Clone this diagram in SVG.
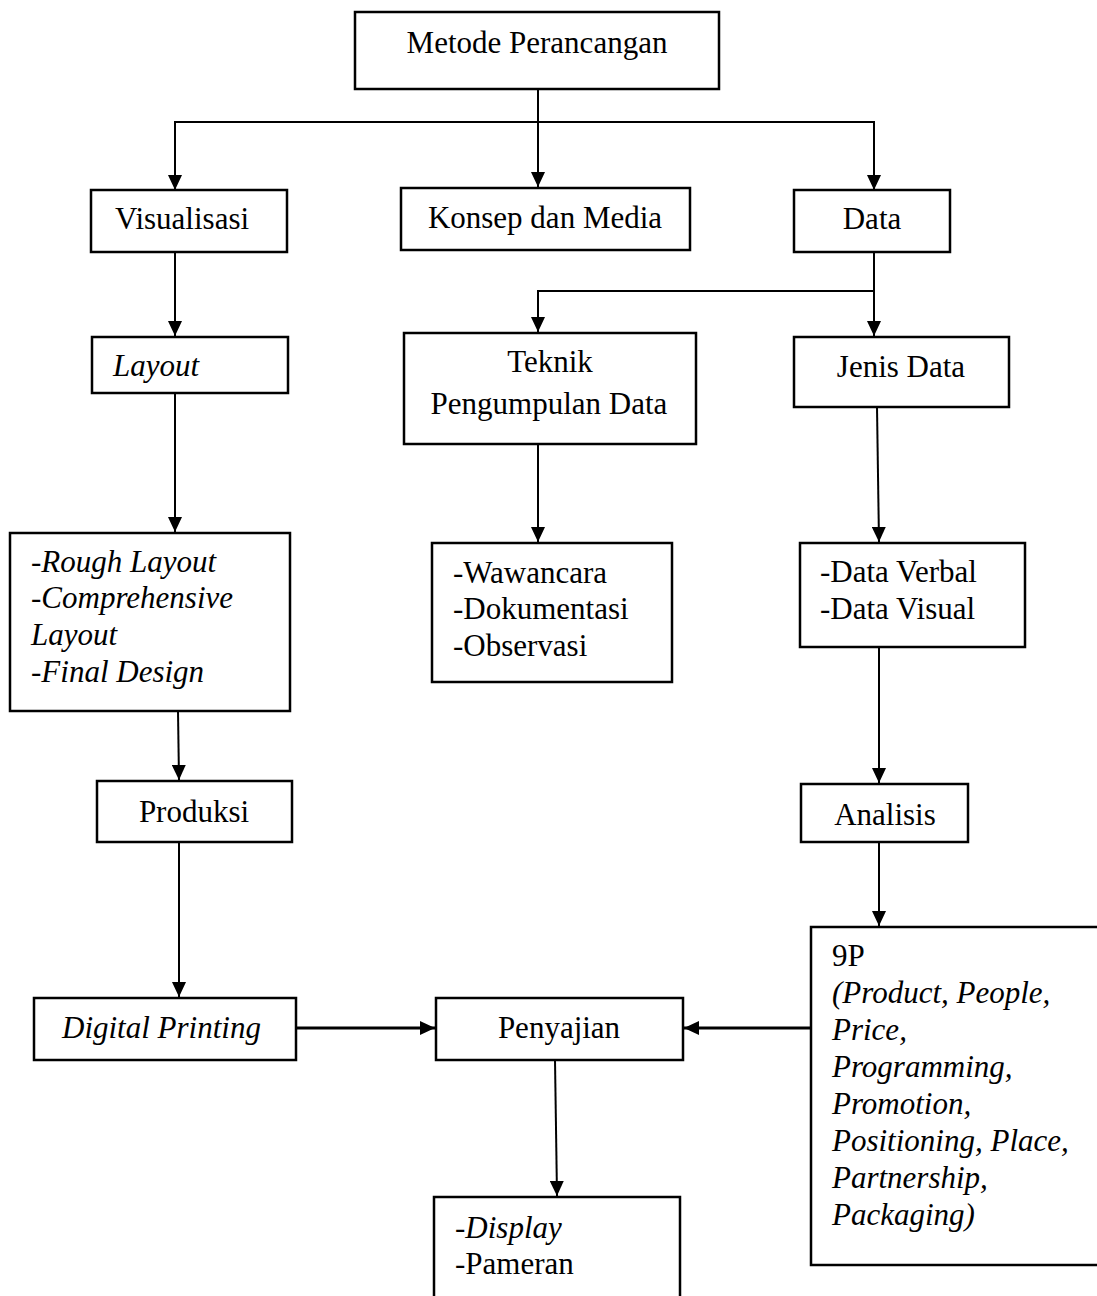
<svg xmlns="http://www.w3.org/2000/svg" width="1097" height="1296" viewBox="0 0 1097 1296">
<style>
.box{fill:#fff;stroke:#000;stroke-width:2.5}
.t{font-family:"Liberation Serif","Times New Roman",serif;font-size:31px;fill:#000}
.c{text-anchor:middle}
.i{font-style:italic}
.ln{fill:none;stroke:#000;stroke-width:2}
</style>
<defs>
<marker id="ah" markerUnits="userSpaceOnUse" markerWidth="16" markerHeight="14" refX="15" refY="7" orient="auto">
<path d="M0,0 L15,7 L0,14 Z" fill="#000"/>
</marker>
</defs>
<rect width="1097" height="1296" fill="#fff"/>
<g id="connectors">
<line class="ln" x1="538" y1="89" x2="538" y2="187" marker-end="url(#ah)"/>
<polyline class="ln" points="175,190 175,122 874,122 874,190" marker-end="url(#ah)"/>
<line class="ln" x1="175" y1="122" x2="175" y2="190" marker-end="url(#ah)"/>
<line class="ln" x1="874" y1="252" x2="874" y2="336" marker-end="url(#ah)"/>
<polyline class="ln" points="874,291 538,291 538,332" marker-end="url(#ah)"/>
<line class="ln" x1="175" y1="252" x2="175" y2="336" marker-end="url(#ah)"/>
<line class="ln" x1="175" y1="393" x2="175" y2="532" marker-end="url(#ah)"/>
<line class="ln" x1="538" y1="444" x2="538" y2="542" marker-end="url(#ah)"/>
<line class="ln" x1="877" y1="407" x2="879" y2="542" marker-end="url(#ah)"/>
<line class="ln" x1="178" y1="711" x2="179" y2="780" marker-end="url(#ah)"/>
<line class="ln" x1="879" y1="647" x2="879" y2="783" marker-end="url(#ah)"/>
<line class="ln" x1="179" y1="842" x2="179" y2="997" marker-end="url(#ah)"/>
<line class="ln" x1="879" y1="842" x2="879" y2="926" marker-end="url(#ah)"/>
<line class="ln" x1="297" y1="1028" x2="435" y2="1028" stroke-width="3" style="stroke-width:3" marker-end="url(#ah)"/>
<line class="ln" x1="811" y1="1028" x2="684" y2="1028" style="stroke-width:3" marker-end="url(#ah)"/>
<line class="ln" x1="555" y1="1060" x2="557" y2="1196" marker-end="url(#ah)"/>
</g>
<g id="metode">
<rect class="box" x="355" y="12" width="364" height="77"/>
<text class="t c" x="537" y="53">Metode Perancangan</text>
</g>
<g id="visualisasi">
<rect class="box" x="91" y="190" width="196" height="62"/>
<text class="t c" x="182" y="229">Visualisasi</text>
</g>
<g id="konsep">
<rect class="box" x="401" y="188" width="289" height="62"/>
<text class="t c" x="545" y="228">Konsep dan Media</text>
</g>
<g id="data">
<rect class="box" x="794" y="190" width="156" height="62"/>
<text class="t c" x="872" y="229">Data</text>
</g>
<g id="layout">
<rect class="box" x="92" y="337" width="196" height="56"/>
<text class="t i" x="113" y="376">Layout</text>
</g>
<g id="teknik">
<rect class="box" x="404" y="333" width="292" height="111"/>
<text class="t c" x="550" y="372">Teknik</text>
<text class="t c" x="549" y="414">Pengumpulan Data</text>
</g>
<g id="jenis">
<rect class="box" x="794" y="337" width="215" height="70"/>
<text class="t c" x="901" y="377">Jenis Data</text>
</g>
<g id="rough">
<rect class="box" x="10" y="533" width="280" height="178"/>
<text class="t" x="31" y="572">-<tspan class="i">Rough Layout</tspan></text>
<text class="t" x="31" y="608">-<tspan class="i">Comprehensive</tspan></text>
<text class="t i" x="31" y="645">Layout</text>
<text class="t" x="31" y="682">-<tspan class="i">Final Design</tspan></text>
</g>
<g id="wawancara">
<rect class="box" x="432" y="543" width="240" height="139"/>
<text class="t" x="453" y="583">-Wawancara</text>
<text class="t" x="453" y="619">-Dokumentasi</text>
<text class="t" x="453" y="656">-Observasi</text>
</g>
<g id="dataverbal">
<rect class="box" x="800" y="543" width="225" height="104"/>
<text class="t" x="820" y="582">-Data Verbal</text>
<text class="t" x="820" y="619">-Data Visual</text>
</g>
<g id="produksi">
<rect class="box" x="97" y="781" width="195" height="61"/>
<text class="t c" x="194" y="822">Produksi</text>
</g>
<g id="analisis">
<rect class="box" x="801" y="784" width="167" height="58"/>
<text class="t c" x="885" y="825">Analisis</text>
</g>
<g id="digital">
<rect class="box" x="34" y="998" width="262" height="62"/>
<text class="t i" x="62" y="1038">Digital Printing</text>
</g>
<g id="penyajian">
<rect class="box" x="436" y="998" width="247" height="62"/>
<text class="t c" x="559" y="1038">Penyajian</text>
</g>
<g id="ninep">
<rect class="box" x="811" y="927" width="300" height="338"/>
<text class="t" x="832" y="966">9P</text>
<text class="t i" x="832" y="1003">(Product, People,</text>
<text class="t i" x="832" y="1040">Price,</text>
<text class="t i" x="832" y="1077">Programming,</text>
<text class="t i" x="832" y="1114">Promotion,</text>
<text class="t i" x="832" y="1151">Positioning, Place,</text>
<text class="t i" x="832" y="1188">Partnership,</text>
<text class="t i" x="832" y="1225">Packaging)</text>
</g>
<g id="display">
<rect class="box" x="434" y="1197" width="246" height="120"/>
<text class="t" x="455" y="1238">-<tspan class="i">Display</tspan></text>
<text class="t" x="455" y="1274">-Pameran</text>
</g>
</svg>
